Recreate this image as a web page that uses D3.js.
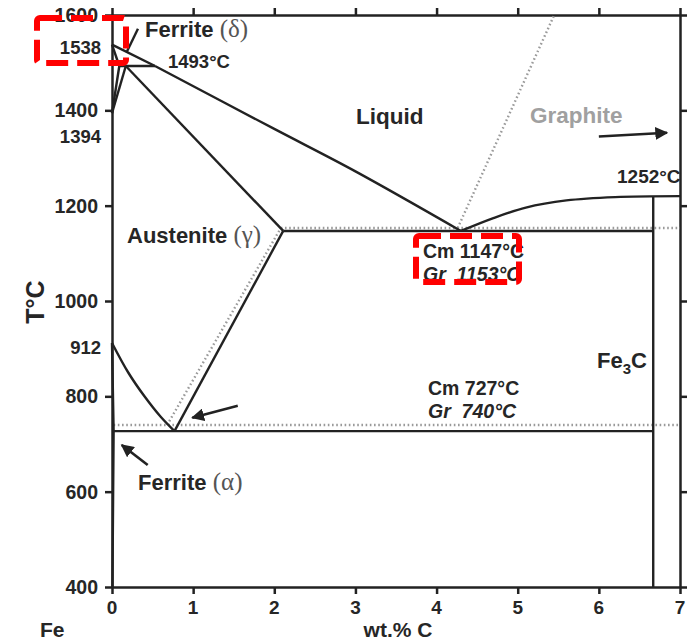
<!DOCTYPE html>
<html>
<head>
<meta charset="utf-8">
<script src="https://cdn.jsdelivr.net/npm/d3@7"></script>
<style>
  body { margin: 0; background: #fff; }
  svg text { font-family: "Liberation Sans", Arial, sans-serif; font-weight: bold; fill: #262626; white-space: pre; }
  .greek { font-family: "Liberation Serif", "DejaVu Serif", serif; font-weight: normal; fill: #555; }
</style>
</head>
<body>
<div id="chart"></div>
<script>
// Axis ticks
const xTicks = [0, 1, 2, 3, 4, 5, 6, 7];
const yTicks = [400, 600, 800, 1000, 1200, 1400, 1600];
// special temperatures written beside the left axis
const specialTemps = [1538, 1394, 912];

// Phase boundaries, [wt.% C, T °C]
const deltaLiquidus = [[0, 1538], [0.53, 1493]];
const liquidus = [[0.53, 1493], [2.0, 1361], [3.0, 1272], [4.3, 1147]];
const deltaSolidus = [[0, 1538], [0.09, 1493]];
const deltaGamma1 = [[0, 1394], [0.09, 1493]];
const deltaGamma2 = [[0, 1394], [0.17, 1493]];
const peritectic = [[0.09, 1493], [0.53, 1493]];
const austSolidus = [[0.17, 1493], [2.11, 1147]];
const a3Line = [[0, 912], [0.2, 850], [0.4, 800], [0.6, 757], [0.77, 727]];
const acmLine = [[0.77, 727], [2.11, 1147]];
const alphaLine = [[0, 912], [0.02, 727], [0.005, 400]];
const eutectic = [[2.11, 1147], [6.67, 1147]];
const eutectoid = [[0.02, 727], [6.67, 727]];
const cmLiquidus = [[4.3, 1147], [4.7, 1174], [5.1, 1196], [5.6, 1211], [6.2, 1218], [7, 1220]];
const fe3cLine = [[6.67, 1219], [6.67, 400]];

// Graphite (stable) system, dotted
const acmGraphite = [[0.68, 740], [2.08, 1153]];
const eutecticGr = [[2.08, 1153], [7, 1153]];
const eutectoidGr = [[0.02, 740], [7, 740]];
const grLiquidus = [[4.26, 1153], [5.45, 1600]];

// Arrows and leader line [from, to]
const arrows = [
    [[1.55, 780], [0.99, 755]],
    [[0.44, 656], [0.12, 698]],
    [[6.0, 1345], [6.84, 1353]]
];
const leader = [[0.32, 1571], [0.18, 1522]];

const W = 692, H = 640;

const svg = d3.select("#chart")
    .append("svg")
    .attr("width", W)
    .attr("height", H);

const x = d3.scaleLinear().domain([0, 7]).range([112, 680]);
const y = d3.scaleLinear().domain([400, 1600]).range([587, 15]);

const line = d3.line().x(d => x(d[0])).y(d => y(d[1]));
const curve = d3.line().x(d => x(d[0])).y(d => y(d[1])).curve(d3.curveCatmullRom);

// Arrow head marker
svg.append("defs").append("marker")
    .attr("id", "head")
    .attr("viewBox", "0 0 10 10")
    .attr("refX", 9).attr("refY", 5)
    .attr("markerWidth", 5).attr("markerHeight", 5)
    .attr("markerUnits", "strokeWidth")
    .attr("orient", "auto")
    .append("path")
    .attr("d", "M0,0 L10,5 L0,10 Z")
    .attr("fill", "#222");

// Axes
const axisStyle = g => {
    g.select(".domain").attr("stroke", "#222").attr("stroke-width", 2.5);
    g.selectAll(".tick line").attr("stroke", "#222").attr("stroke-width", 2.5);
    g.selectAll("text").remove();
};

svg.append("g").attr("transform", `translate(0,${y(400)})`)
    .call(d3.axisBottom(x).tickValues(xTicks).tickSize(7).tickSizeOuter(0)).call(axisStyle);
svg.append("g").attr("transform", `translate(0,${y(1600)})`)
    .call(d3.axisTop(x).tickValues(xTicks).tickSize(7).tickSizeOuter(0)).call(axisStyle);
svg.append("g").attr("transform", `translate(${x(0)},0)`)
    .call(d3.axisLeft(y).tickValues(yTicks).tickSize(7).tickSizeOuter(0)).call(axisStyle);
svg.append("g").attr("transform", `translate(${x(7)},0)`)
    .call(d3.axisRight(y).tickValues(yTicks).tickSize(7).tickSizeOuter(0)).call(axisStyle);

// Tick labels
svg.selectAll(".xlab").data(xTicks).enter().append("text")
    .attr("x", d => x(d)).attr("y", 614)
    .attr("text-anchor", "middle").attr("font-size", 19)
    .text(d => d);

svg.selectAll(".ylab").data(yTicks).enter().append("text")
    .attr("x", 98).attr("y", d => y(d) + 7)
    .attr("text-anchor", "end").attr("font-size", 19.5)
    .text(d => d);

const specialShift = { 1538: 2, 1394: 23, 912: 4 };
svg.selectAll(".slab").data(specialTemps).enter().append("text")
    .attr("x", 101).attr("y", d => y(d) + 7 + specialShift[d])
    .attr("text-anchor", "end").attr("font-size", 18.5)
    .text(d => d);

// Dotted graphite lines
[acmGraphite, eutecticGr, eutectoidGr, grLiquidus].forEach(d => {
    svg.append("path").attr("d", line(d))
        .attr("fill", "none").attr("stroke", "#9a9a9a")
        .attr("stroke-width", 2.4).attr("stroke-dasharray", "1.6,2.6");
});

// Solid phase boundaries
[deltaLiquidus, deltaSolidus, deltaGamma1, deltaGamma2, peritectic, austSolidus, acmLine,
 alphaLine, eutectic, eutectoid, fe3cLine, leader].forEach(d => {
    svg.append("path").attr("d", line(d))
        .attr("fill", "none").attr("stroke", "#222").attr("stroke-width", 2.4);
});
[liquidus, a3Line, cmLiquidus].forEach(d => {
    svg.append("path").attr("d", curve(d))
        .attr("fill", "none").attr("stroke", "#222").attr("stroke-width", 2.4);
});

// Arrows
arrows.forEach(a => {
    svg.append("path").attr("d", line(a))
        .attr("fill", "none").attr("stroke", "#222").attr("stroke-width", 2.6)
        .attr("marker-end", "url(#head)");
});

// Labels
function label(px, py, txt, size, opts = {}) {
    const t = svg.append("text").attr("x", px).attr("y", py).attr("font-size", size);
    if (opts.italic) t.attr("font-style", "italic");
    if (opts.fill) t.style("fill", opts.fill);
    if (opts.anchor) t.attr("text-anchor", opts.anchor);
    t.append("tspan").text(txt);
    if (opts.greek) t.append("tspan").attr("class", "greek").attr("font-size", 25).text(" (" + opts.greek + ")");
    return t;
}

label(145, 37, "Ferrite", 22, { greek: "δ" });
label(168, 68, "1493°C", 18.5);
label(356, 124, "Liquid", 22.5);
label(530, 123, "Graphite", 22.5, { fill: "#a0a0a0" });
label(617, 183, "1252°C", 19);
label(127, 243, "Austenite", 22, { greek: "γ" });
label(423, 258, "Cm 1147°C", 19.5);
label(423, 281, "Gr  1153°C", 19.5, { italic: true });
label(428, 395, "Cm 727°C", 19.5);
label(428, 418, "Gr  740°C", 19.5, { italic: true });
label(138, 490, "Ferrite", 22, { greek: "α" });

const fe3c = svg.append("text").attr("x", 597).attr("y", 368).attr("font-size", 22);
fe3c.append("tspan").text("Fe");
fe3c.append("tspan").attr("font-size", 15).attr("dy", 6).text("3");
fe3c.append("tspan").attr("dy", -6).text("C");

svg.append("text").attr("x", 40).attr("y", 637).attr("font-size", 21).text("Fe");
svg.append("text").attr("x", 398).attr("y", 637).attr("font-size", 21)
    .attr("text-anchor", "middle").text("wt.% C");
svg.append("text")
    .attr("transform", "translate(44,302) rotate(-90)")
    .attr("text-anchor", "middle").attr("font-size", 25).text("T°C");

// Red dashed highlight boxes
[[37, 18, 89, 45], [416, 236, 103, 46]].forEach(b => {
    svg.append("rect")
        .attr("x", b[0]).attr("y", b[1]).attr("width", b[2]).attr("height", b[3])
        .attr("rx", 3)
        .attr("fill", "none").attr("stroke", "#ff0000").attr("stroke-width", 6)
        .attr("stroke-dasharray", "22,9");
});
</script>
</body>
</html>
